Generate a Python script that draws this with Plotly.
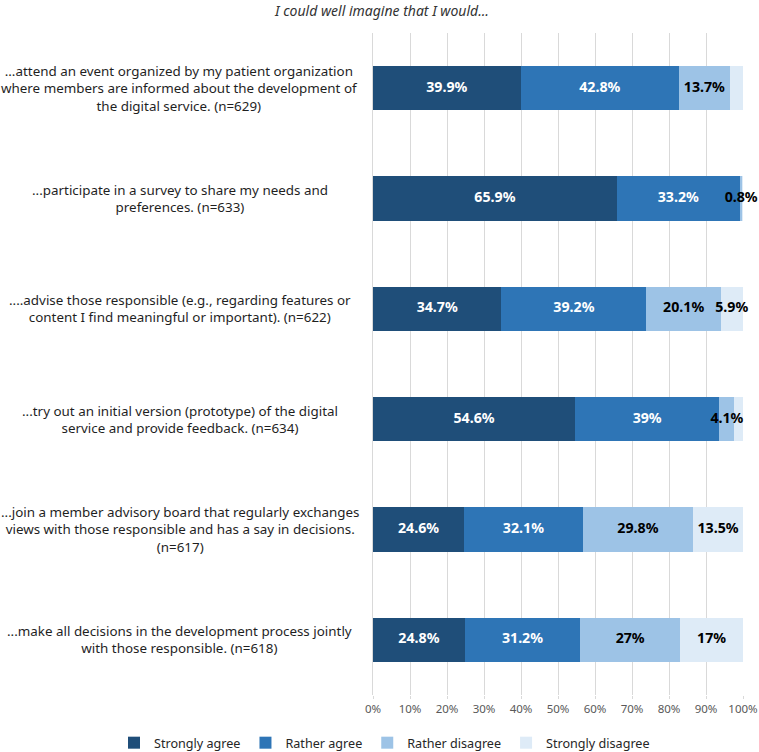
import plotly.graph_objects as go

categories = [
    "...attend an event organized by my patient organization<br>where members are informed about the development of<br>the digital service. (n=629)",
    "...participate in a survey to share my needs and<br>preferences. (n=633)",
    "....advise those responsible (e.g., regarding features or<br>content I find meaningful or important). (n=622)",
    "...try out an initial version (prototype) of the digital<br>service and provide feedback. (n=634)",
    "...join a member advisory board that regularly exchanges<br>views with those responsible and has a say in decisions.<br>(n=617)",
    "...make all decisions in the development process jointly<br>with those responsible. (n=618)",
]

series_names = ["Strongly agree", "Rather agree", "Rather disagree", "Strongly disagree"]
strongly_agree = [39.9, 65.9, 34.7, 54.6, 24.6, 24.8]
rather_agree = [42.8, 33.2, 39.2, 39.0, 32.1, 31.2]
rather_disagree = [13.7, 0.8, 20.1, 4.1, 29.8, 27.0]
strongly_disagree = [3.6, 0.1, 5.9, 2.3, 13.5, 17.0]
# which values carry a data label in the original
label_shown = {
    "Strongly agree": [True] * 6,
    "Rather agree": [True] * 6,
    "Rather disagree": [True] * 6,
    "Strongly disagree": [False, False, True, False, True, True],
}
colors = ["#1F4E79", "#2E75B6", "#9DC3E6", "#DEEBF7"]
text_colors = ["white", "white", "black", "black"]
tick_vals = [0, 10, 20, 30, 40, 50, 60, 70, 80, 90, 100]
tick_text = [f"{v}%" for v in tick_vals]
title_text = "I could well imagine that I would..."

FONT = "Noto Sans"

all_series = [strongly_agree, rather_agree, rather_disagree, strongly_disagree]

fig = go.Figure()
for name, vals, col in zip(series_names, all_series, colors):
    fig.add_trace(go.Bar(
        y=categories, x=vals, name=name, orientation="h",
        marker=dict(color=col, line=dict(width=0)),
        width=0.4, hovertemplate="%{x}%<extra>" + name + "</extra>",
    ))

# data labels drawn on top of all bars, centred in each segment
base = [0.0] * len(categories)
for name, vals, tcol in zip(series_names, all_series, text_colors):
    mids = [b + v / 2 for b, v in zip(base, vals)]
    txt = [f"<b>{v:g}%</b>" if s else "" for v, s in zip(vals, label_shown[name])]
    fig.add_trace(go.Scatter(
        x=mids, y=categories, mode="text", text=txt, textposition="middle center",
        textfont=dict(color=tcol, size=14.2, family=FONT),
        showlegend=False, hoverinfo="skip", cliponaxis=False,
    ))
    base = [b + v for b, v in zip(base, vals)]

for c in categories:
    fig.add_annotation(
        x=-0.522, xref="paper", y=c, yref="y", text=c, showarrow=False,
        xanchor="center", yanchor="middle", align="center",
        font=dict(size=13.4, color="#1F1F1F", family=FONT),
    )

fig.update_layout(
    barmode="stack",
    width=759, height=752,
    margin=dict(l=373, r=16, t=33, b=57, autoexpand=False),
    paper_bgcolor="white", plot_bgcolor="white",
    title=dict(text=f"<i>{title_text}</i>", x=382 / 759, xref="container", xanchor="center",
               y=1 - 11 / 752, yref="container", yanchor="middle",
               font=dict(size=14, color="#333333", family=FONT)),
    xaxis=dict(range=[0, 100], tickvals=tick_vals, ticktext=tick_text,
               showgrid=True, gridcolor="#D9D9D9", gridwidth=1, zeroline=False,
               tickfont=dict(size=11.5, color="#595959", family=FONT),
               ticks="outside", ticklen=3, tickcolor="#D9D9D9",
               showline=False, fixedrange=True, automargin=False),
    yaxis=dict(autorange="reversed", showticklabels=False, showgrid=False,
               showline=True, linecolor="#D9D9D9", linewidth=1, zeroline=False,
               automargin=False, fixedrange=True),
    legend=dict(orientation="h", x=-0.7, xanchor="left", y=-0.0725, yanchor="middle",
                font=dict(size=12.6, color="#262626", family=FONT), traceorder="normal",
                itemclick=False, itemdoubleclick=False),
    showlegend=True,
)

fig.write_html("out.html")
